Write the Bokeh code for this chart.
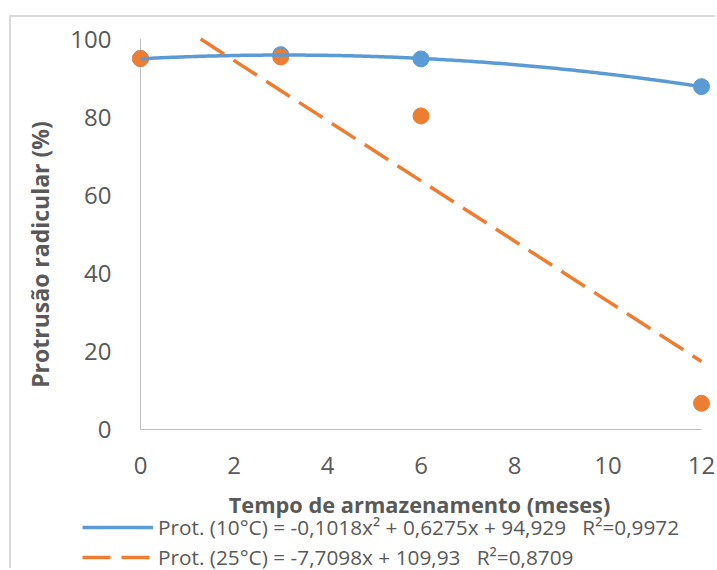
import numpy as np
from bokeh.plotting import figure
from bokeh.models import Range1d, Legend, LegendItem, FixedTicker, Label
from bokeh.embed import file_html
from bokeh.resources import INLINE

# storage time (months) and radicle protrusion (%) at two temperatures
months = [0, 3, 6, 12]
prot_10c = [95.0, 96.0, 94.9, 87.8]
prot_25c = [95.0, 95.4, 80.3, 6.7]

# fitted trend coefficients as printed in the legend
fit_10c = (-0.1018, 0.6275, 94.929)   # a*x^2 + b*x + c
fit_25c = (-7.7098, 109.93)           # m*x + q

x_ticks = [0, 2, 4, 6, 8, 10, 12]
y_ticks = [0, 20, 40, 60, 80, 100]

label_10c = "Prot. (10°C) = -0,1018x² + 0,6275x + 94,929 \u00a0 R²=0,9972"
label_25c = "Prot. (25°C) = -7,7098x + 109,93 \u00a0 R²=0,8709"
x_title = "Tempo de armazenamento (meses)"
y_title = "Protrusão radicular (%)"

BLUE = "#5b9bd5"
ORANGE = "#ed7d31"
GREY_TEXT = "#595959"
AXIS_GREY = "#bfbfbf"
FONT = "Open Sans"
DASH = "28 11"

W, H = 706, 553

# the plot frame fills the whole canvas; axes sit at x=0 / y=0 inside it,
# leaving room around the data for tick labels, titles and the legend
p = figure(width=W, height=H, output_backend="svg", toolbar_location=None,
           x_range=Range1d(-2.759, 12.342), y_range=Range1d(-36.11, 105.51),
           min_border=0, outline_line_color=None)
p.margin = (15, 0, 0, 9)
p.styles = {"border-top": "2px solid #d9d9d9", "border-left": "2px solid #d9d9d9"}

p.xgrid.visible = False
p.ygrid.visible = False

for ax, ticks, standoff in ((p.xaxis, x_ticks, 22), (p.yaxis, y_ticks, 23)):
    ax.fixed_location = 0
    ax.ticker = FixedTicker(ticks=ticks)
    ax.axis_line_color = None
    ax.major_tick_line_color = None
    ax.minor_tick_line_color = None
    ax.major_label_text_font = FONT
    ax.major_label_text_font_size = "24px"
    ax.major_label_text_color = GREY_TEXT
    ax.major_label_standoff = standoff

# axis lines spanning the tick range only
p.segment(x0=[x_ticks[0], x_ticks[0]], y0=[y_ticks[0], y_ticks[0]],
          x1=[x_ticks[-1], x_ticks[0]], y1=[y_ticks[0], y_ticks[-1]],
          line_color=AXIS_GREY, line_width=1)

# observed values
p.scatter(months, prot_10c, size=16, fill_color=BLUE, line_color=BLUE)
p.scatter(months, prot_25c, size=16, fill_color=ORANGE, line_color=ORANGE)

# trend lines (the linear one stops where it leaves the 0-100 % scale)
a, b, c = fit_10c
xs10 = np.linspace(months[0], months[-1], 200)
r10 = p.line(xs10, a * xs10 ** 2 + b * xs10 + c, line_color=BLUE, line_width=3.5)

m, q = fit_25c
x_start = max(months[0], (y_ticks[-1] - q) / m)
xs25 = np.array([x_start, months[-1]])
r25 = p.line(xs25, m * xs25 + q, line_color=ORANGE, line_width=3.5, line_dash=DASH)

# axis titles
p.add_layout(Label(x=28, y=316, x_units="screen", y_units="screen", text=y_title,
                   angle=np.pi / 2, text_align="center", text_baseline="alphabetic",
                   text_font=FONT, text_font_style="bold", text_font_size="23px",
                   text_color=GREY_TEXT))
p.add_layout(Label(x=408, y=66, x_units="screen", y_units="screen", text=x_title,
                   text_align="center", text_baseline="alphabetic",
                   text_font=FONT, text_font_style="bold", text_font_size="21.8px",
                   text_color=GREY_TEXT))

legend = Legend(items=[LegendItem(label=label_10c, renderers=[r10]),
                       LegendItem(label=label_25c, renderers=[r25])],
                location=(71, -2), orientation="vertical",
                background_fill_alpha=0, border_line_color=None,
                padding=0, margin=0, spacing=0,
                glyph_width=71, glyph_height=30, label_height=30, label_standoff=5,
                label_text_font=FONT, label_text_font_size="20.8px",
                label_text_color=GREY_TEXT)
p.add_layout(legend)

open("out.html", "w").write(file_html(p, INLINE))
